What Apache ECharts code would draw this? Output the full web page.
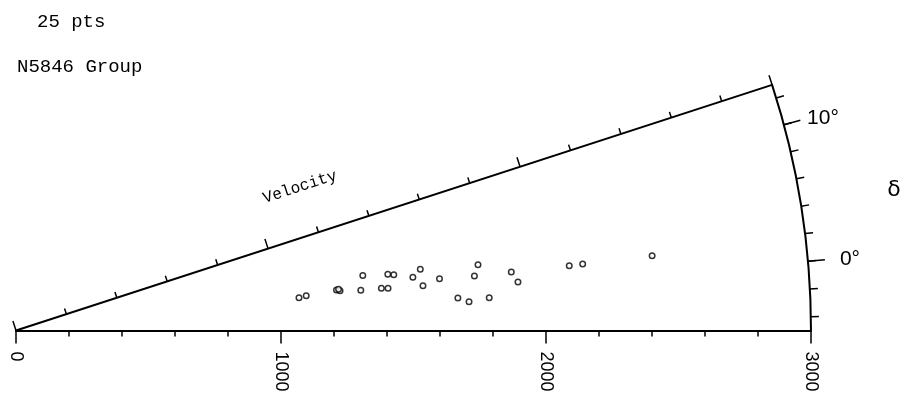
<!DOCTYPE html>
<html>
<head>
<meta charset="utf-8">
<script src="https://cdn.jsdelivr.net/npm/echarts@6/dist/echarts.min.js"></script>
<style>
html,body{margin:0;padding:0;background:#fff;}
#chart{width:902px;height:394px;}
</style>
</head>
<body>
<div id="chart"></div>
<script>
// Galaxy velocities (km/s) and declinations (deg)
const velocity = [1075, 1103, 1219, 1232, 1227, 1310, 1325, 1388, 1413, 1419, 1441, 1511, 1543, 1545, 1610, 1672, 1713, 1790, 1742, 1761, 1882, 1903, 2102, 2153, 2417];
const declination = [1.61, 1.84, 2.20, 2.00, 2.28, 1.67, 4.01, 1.61, 1.49, 3.61, 3.39, 2.63, 3.61, 1.28, 1.97, -0.79, -1.36, -1.04, 1.78, 3.11, 1.74, 0.52, 1.68, 1.69, 1.71];
const decTicks = [-4, -2, 0, 2, 4, 6, 8, 10, 12];
const decLabels = [0, 10];
const velLabels = [0, 1000, 2000, 3000];
const decMin = -5, decMax = 13;
const velMax = 3000;

const points = velocity.map((v, i) => [v, declination[i]]);

const chart = echarts.init(document.getElementById('chart'), null, {renderer: 'canvas'});
const center = [16, 330.5];
const R = 795;
const black = '#000';
const wedgeSpan = decMax - decMin;

const option = {
  animation: false,
  backgroundColor: '#fff',
  polar: [
    {center: center, radius: [0, R]},
    {center: center, radius: [0, R]},
    {center: center, radius: [0, R]}
  ],
  angleAxis: [
    {
      polarIndex: 0, type: 'value', min: decMin, max: decMax,
      startAngle: 0, endAngle: wedgeSpan, clockwise: false,
      axisLine: {show: true, lineStyle: {color: black, width: 2}},
      axisTick: {show: true, customValues: decTicks, length: 8, lineStyle: {color: black, width: 1.5}},
      axisLabel: {show: false},
      splitLine: {show: false}
    },
    {
      polarIndex: 1, type: 'value', min: decMin, max: decMax,
      startAngle: 0, endAngle: wedgeSpan, clockwise: false,
      axisLine: {show: false},
      axisTick: {show: true, customValues: decLabels, length: 17, lineStyle: {color: black, width: 1.5}},
      axisLabel: {show: true, customValues: decLabels, margin: 24,
                  formatter: v => (v === 0 ? '{pad|' + v + '°}' : v + '°'),
                  rich: {pad: {padding: [0, 0, 0, 8], fontSize: 21, fontFamily: 'Liberation Sans', color: black}},
                  color: black, fontSize: 21, fontFamily: 'Liberation Sans'},
      splitLine: {show: false}
    },
    {
      polarIndex: 2, type: 'value', min: decMin, max: decMax,
      startAngle: wedgeSpan, endAngle: 0, clockwise: true,
      axisLine: {show: false}, axisTick: {show: false}, axisLabel: {show: false}, splitLine: {show: false}
    }
  ],
  radiusAxis: [
    {
      polarIndex: 0, type: 'value', min: 0, max: velMax, interval: 1000,
      axisLine: {show: true, lineStyle: {color: black, width: 2}},
      axisTick: {show: true, length: -13, lineStyle: {color: black, width: 1.5}},
      minorTick: {show: true, splitNumber: 5, length: -6, lineStyle: {color: black, width: 1.5}},
      axisLabel: {show: true, customValues: velLabels, rotate: -90, margin: -21, align: 'left', verticalAlign: 'middle',
                  formatter: v => String(v),
                  color: black, fontSize: 18, fontFamily: 'Liberation Sans'},
      splitLine: {show: false}, minorSplitLine: {show: false}
    },
    {
      polarIndex: 1, type: 'value', min: 0, max: velMax, show: false
    },
    {
      polarIndex: 2, type: 'value', min: 0, max: velMax, interval: 1000,
      axisLine: {show: true, lineStyle: {color: black, width: 2}},
      axisTick: {show: true, length: 10, lineStyle: {color: black, width: 1.5}},
      minorTick: {show: true, splitNumber: 5, length: 6, lineStyle: {color: black, width: 1.5}},
      axisLabel: {show: false},
      splitLine: {show: false}, minorSplitLine: {show: false}
    }
  ],
  graphic: [
    {type: 'text', left: 37, top: 12, style: {text: '25 pts', fontSize: 19, fontFamily: 'Liberation Mono', fill: black}},
    {type: 'text', left: 17, top: 57, style: {text: 'N5846 Group', fontSize: 19, fontFamily: 'Liberation Mono', fill: black}},
    {type: 'text', x: 300, y: 187, rotation: wedgeSpan * Math.PI / 180,
     style: {text: 'Velocity', fontSize: 16, fontFamily: 'Liberation Mono', fill: black, align: 'center', verticalAlign: 'middle'}},
    {type: 'text', x: 894, y: 190,
     style: {text: 'δ', fontSize: 22, fontFamily: 'DejaVu Sans', fill: black, align: 'center', verticalAlign: 'middle'}}
  ],
  series: [
    {
      type: 'scatter', coordinateSystem: 'polar', polarIndex: 0,
      data: points,
      symbol: 'circle', symbolSize: 5.5,
      itemStyle: {color: '#fff', borderColor: black, borderWidth: 1.5},
      silent: true
    }
  ]
};
chart.setOption(option);
</script>
</body>
</html>
